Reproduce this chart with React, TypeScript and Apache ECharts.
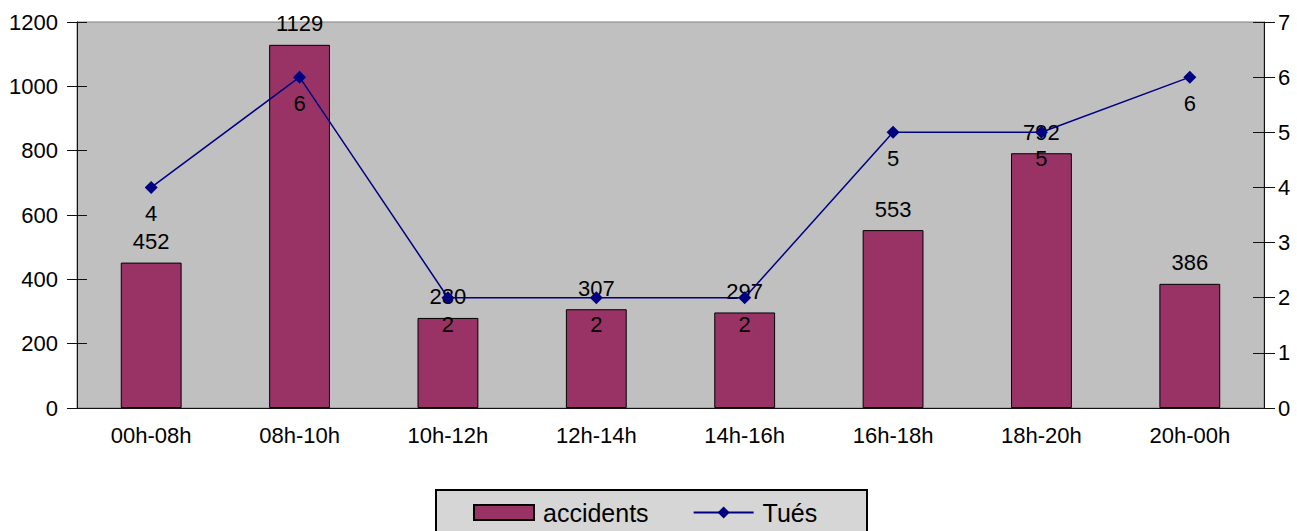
import React, { useEffect, useRef } from "react";
import * as echarts from "echarts";

const categories = ["00h-08h", "08h-10h", "10h-12h", "12h-14h", "14h-16h", "16h-18h", "18h-20h", "20h-00h"];
const accidents = [452, 1129, 280, 307, 297, 553, 792, 386];
const tues = [4, 6, 2, 2, 2, 5, 5, 6];

const FONT = "Liberation Sans, Arial, sans-serif";

export default function App() {
  const ref = useRef<HTMLDivElement>(null);
  useEffect(() => {
    if (!ref.current) return;
    const chart = echarts.init(ref.current, null, { renderer: "svg" });
    const axisLineStyle = { color: "#111", width: 1 };
    const plain = (v: number) => String(v);
    chart.setOption({
      animation: false,
      backgroundColor: "#fff",
      textStyle: { fontFamily: FONT },
      grid: {
        left: 77,
        right: 33,
        top: 22,
        bottom: 123,
        show: true,
        backgroundColor: "#C0C0C0",
        borderColor: "#808080",
        borderWidth: 1,
      },
      legend: {
        left: 473,
        top: 500,
        padding: 0,
        itemWidth: 60,
        itemHeight: 15,
        itemGap: 44,
        textStyle: { fontSize: 25, color: "#000", fontFamily: FONT, padding: [0, 0, 0, 4] },
        data: [{ name: "accidents", icon: "rect" }, { name: "Tués" }],
      },
      graphic: [
        {
          type: "rect",
          left: 435,
          top: 489,
          shape: { width: 431, height: 60 },
          style: { fill: "#D6D6D6", stroke: "#000", lineWidth: 2 },
          z: -1,
        },
      ],
      xAxis: [
        {
          type: "category",
          data: categories,
          position: "bottom",
          axisLine: { lineStyle: axisLineStyle },
          axisTick: { length: 10, lineStyle: axisLineStyle },
          axisLabel: { fontSize: 22, color: "#000", margin: 16, fontFamily: FONT },
          splitLine: { show: false },
        },
        {
          type: "category",
          data: categories,
          position: "bottom",
          axisLine: { show: false },
          axisTick: { inside: true, length: 10, lineStyle: axisLineStyle },
          axisLabel: { show: false },
          splitLine: { show: false },
        },
      ],
      yAxis: [
        {
          type: "value",
          min: 0,
          max: 1200,
          interval: 200,
          position: "left",
          axisLine: { show: true, lineStyle: axisLineStyle },
          axisTick: { show: true, length: 10, lineStyle: axisLineStyle },
          axisLabel: { fontSize: 22, color: "#000", margin: 19, fontFamily: FONT, formatter: plain },
          splitLine: { show: false },
        },
        {
          type: "value",
          min: 0,
          max: 7,
          interval: 1,
          position: "right",
          axisLine: { show: true, lineStyle: axisLineStyle },
          axisTick: { show: true, length: 11, lineStyle: axisLineStyle },
          axisLabel: { fontSize: 22, color: "#000", margin: 14, fontFamily: FONT, formatter: plain },
          splitLine: { show: false },
        },
        {
          type: "value",
          min: 0,
          max: 1200,
          interval: 200,
          position: "left",
          axisLine: { show: false },
          axisTick: { show: true, inside: true, length: 10, lineStyle: axisLineStyle },
          axisLabel: { show: false },
          splitLine: { show: false },
        },
        {
          type: "value",
          min: 0,
          max: 7,
          interval: 1,
          position: "right",
          axisLine: { show: false },
          axisTick: { show: true, inside: true, length: 11, lineStyle: axisLineStyle },
          axisLabel: { show: false },
          splitLine: { show: false },
        },
      ],
      series: [
        {
          name: "accidents",
          type: "bar",
          data: accidents,
          xAxisIndex: 0,
          yAxisIndex: 0,
          barWidth: "41%",
          itemStyle: { color: "#993366", borderColor: "#000", borderWidth: 1 },
          label: {
            show: true,
            position: "top",
            distance: 10,
            fontSize: 22,
            color: "#000",
            fontFamily: FONT,
          },
        },
        {
          name: "Tués",
          type: "line",
          data: tues,
          xAxisIndex: 0,
          yAxisIndex: 1,
          symbol: "diamond",
          symbolSize: 13,
          lineStyle: { color: "#000080", width: 1.5 },
          itemStyle: { color: "#000080" },
          label: {
            show: true,
            position: "bottom",
            distance: 9,
            fontSize: 22,
            color: "#000",
            fontFamily: FONT,
          },
          z: 3,
        },
      ],
    });
    return () => chart.dispose();
  }, []);
  return (
    <div
      ref={ref}
      style={{ position: "fixed", left: 0, top: 0, width: 1297, height: 531 }}
    />
  );
}
